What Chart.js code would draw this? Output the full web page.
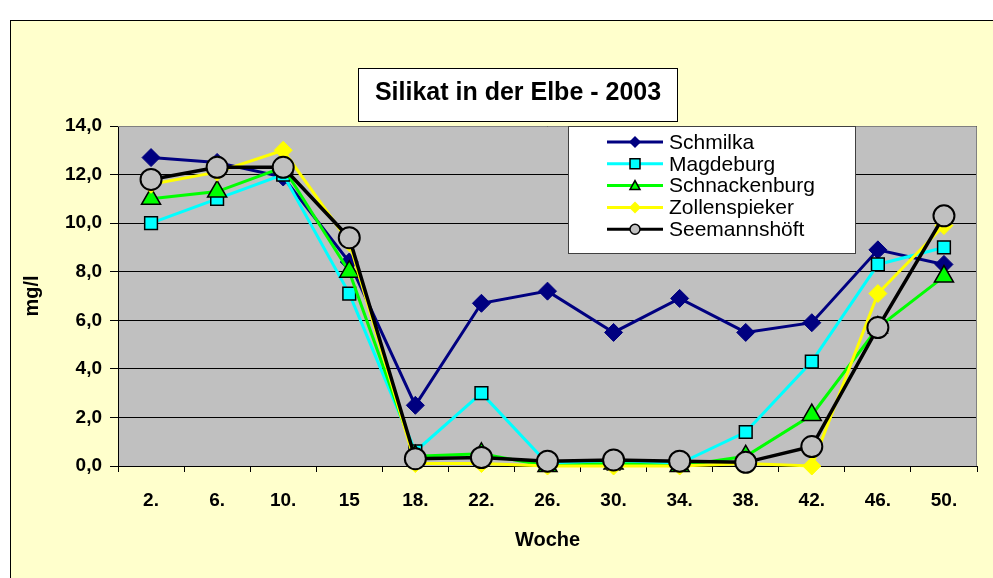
<!DOCTYPE html>
<html>
<head>
<meta charset="utf-8">
<title>Silikat in der Elbe - 2003</title>
<script src="https://cdn.jsdelivr.net/npm/chart.js@4.4.1/dist/chart.umd.min.js"></script>
<style>
  body { margin: 0; background: #fff; }
  #wrap { width: 993px; height: 578px; }
</style>
</head>
<body>
<div id="wrap"><canvas id="silikatChart" width="993" height="578"></canvas></div>
<script>
// Woche (sampling week)
const weeks = ['2.', '6.', '10.', '15', '18.', '22.', '26.', '30.', '34.', '38.', '42.', '46.', '50.'];

// Silikat in mg/l per station
const schmilka      = [12.7, 12.5, 11.9, 8.4, 2.5, 6.7, 7.2, 5.5, 6.9, 5.5, 5.9, 8.9, 8.3];
const magdeburg     = [10.0, 11.0, 12.0, 7.1, 0.6, 3.0, 0.1, 0.1, 0.1, 1.4, 4.3, 8.3, 9.0];
const schnackenburg = [11.0, 11.3, 12.3, 8.0, 0.4, 0.5, 0.0, 0.1, 0.0, 0.4, 2.1, 5.7, 7.8];
const zollenspieker = [11.6, 12.1, 13.0, 9.2, 0.1, 0.1, 0.0, 0.0, 0.0, 0.1, 0.0, 7.1, 9.9];
const seemannshoeft = [11.8, 12.3, 12.3, 9.4, 0.3, 0.35, 0.2, 0.25, 0.2, 0.15, 0.8, 5.7, 10.3];

const yTicks = [0, 2, 4, 6, 8, 10, 12, 14];

const FONT = '"Liberation Sans", Arial, sans-serif';

// background, plot area, title box, legend box, axis titles
const excelLook = {
  id: 'excelLook',
  beforeDraw(chart) {
    const ctx = chart.ctx;
    const a = chart.chartArea;
    ctx.save();
    ctx.fillStyle = '#ffffff';
    ctx.fillRect(0, 0, chart.width, chart.height);
    ctx.fillStyle = '#FFFFCC';
    ctx.fillRect(10, 20, chart.width, chart.height);
    ctx.strokeStyle = '#000';
    ctx.lineWidth = 1;
    ctx.strokeRect(10.5, 20.5, chart.width + 10, chart.height + 10);
    ctx.fillStyle = '#C0C0C0';
    ctx.fillRect(a.left, a.top, a.right - a.left, a.bottom - a.top);
    ctx.restore();
  },
  beforeDatasetsDraw(chart) {
    const ctx = chart.ctx;
    const a = chart.chartArea;
    ctx.save();
    ctx.strokeStyle = '#808080';
    ctx.lineWidth = 1;
    ctx.beginPath();
    ctx.moveTo(a.left, a.top + 0.5);
    ctx.lineTo(a.right - 0.5, a.top + 0.5);
    ctx.lineTo(a.right - 0.5, a.bottom);
    ctx.stroke();
    ctx.restore();
  },
  afterDraw(chart) {
    const ctx = chart.ctx;
    const a = chart.chartArea;
    ctx.save();

    // title box
    ctx.fillStyle = '#fff';
    ctx.fillRect(358, 68, 319, 53);
    ctx.strokeStyle = '#000';
    ctx.lineWidth = 1;
    ctx.strokeRect(358.5, 68.5, 319, 53);
    ctx.fillStyle = '#000';
    ctx.font = 'bold 25px ' + FONT;
    ctx.textAlign = 'center';
    ctx.textBaseline = 'middle';
    ctx.fillText('Silikat in der Elbe - 2003', 518, 93);

    // axis titles
    ctx.font = 'bold 20px ' + FONT;
    ctx.fillText('Woche', (a.left + a.right) / 2, 540);
    ctx.save();
    ctx.translate(32, (a.top + a.bottom) / 2);
    ctx.rotate(-Math.PI / 2);
    ctx.fillText('mg/l', 0, 0);
    ctx.restore();

    // legend
    ctx.fillStyle = '#fff';
    ctx.fillRect(568, 126, 287, 127);
    ctx.strokeStyle = '#404040';
    ctx.strokeRect(568.5, 126.5, 287, 127);
    chart.data.datasets.forEach(function (ds, i) {
      const y = 142 + i * 21.8;
      ctx.strokeStyle = ds.borderColor;
      ctx.lineWidth = 3;
      ctx.beginPath();
      ctx.moveTo(607, y);
      ctx.lineTo(663, y);
      ctx.stroke();
      drawMarker(ctx, ds.pointStyle, 635, y, ds.legendSize, ds.pointBackgroundColor, ds.pointBorderColor, ds.legendBorder);
      ctx.fillStyle = '#000';
      ctx.font = '21px ' + FONT;
      ctx.textAlign = 'left';
      ctx.textBaseline = 'middle';
      ctx.fillText(ds.label, 669, y + 1);
    });
    ctx.restore();
  }
};

function drawMarker(ctx, style, x, y, r, fill, stroke, bw) {
  ctx.beginPath();
  if (style === 'rectRot') {
    ctx.moveTo(x, y - r); ctx.lineTo(x + r, y); ctx.lineTo(x, y + r); ctx.lineTo(x - r, y);
  } else if (style === 'rect') {
    ctx.rect(x - r, y - r, 2 * r, 2 * r);
  } else if (style === 'triangle') {
    ctx.moveTo(x, y - r); ctx.lineTo(x + r, y + r * 0.8); ctx.lineTo(x - r, y + r * 0.8);
  } else {
    ctx.arc(x, y, r, 0, Math.PI * 2);
  }
  ctx.closePath();
  ctx.fillStyle = fill;
  ctx.fill();
  if (bw > 0) {
    ctx.strokeStyle = stroke;
    ctx.lineWidth = bw;
    ctx.stroke();
  }
}

const ctx = document.getElementById('silikatChart').getContext('2d');
const silikatChart = new Chart(ctx, {
  type: 'line',
  data: {
    labels: weeks,
    datasets: [
      {
        label: 'Schmilka', data: schmilka, order: 4,
        borderColor: '#000080', borderWidth: 3,
        pointStyle: 'rectRot', pointRadius: 9, pointBackgroundColor: '#000080',
        pointBorderColor: '#000080', pointBorderWidth: 1,
        legendSize: 6, legendBorder: 0
      },
      {
        label: 'Magdeburg', data: magdeburg, order: 3,
        borderColor: '#00FFFF', borderWidth: 3,
        pointStyle: 'rect', pointRadius: 9, pointBackgroundColor: '#00FFFF',
        pointBorderColor: '#000000', pointBorderWidth: 1.5,
        legendSize: 5, legendBorder: 1.5
      },
      {
        label: 'Schnackenburg', data: schnackenburg, order: 2,
        borderColor: '#00FF00', borderWidth: 3,
        pointStyle: 'triangle', pointRadius: 11, pointBackgroundColor: '#00FF00',
        pointBorderColor: '#000000', pointBorderWidth: 1.5,
        legendSize: 5, legendBorder: 1.5
      },
      {
        label: 'Zollenspieker', data: zollenspieker, order: 1,
        borderColor: '#FFFF00', borderWidth: 3,
        pointStyle: 'rectRot', pointRadius: 9, pointBackgroundColor: '#FFFF00',
        pointBorderColor: '#FFFF00', pointBorderWidth: 1,
        legendSize: 6, legendBorder: 0
      },
      {
        label: 'Seemannshöft', data: seemannshoeft, order: 0,
        borderColor: '#000000', borderWidth: 3.5,
        pointStyle: 'circle', pointRadius: 10.5, pointBackgroundColor: '#C0C0C0',
        pointBorderColor: '#000000', pointBorderWidth: 2,
        legendSize: 5, legendBorder: 1.5
      }
    ]
  },
  options: {
    responsive: false,
    animation: false,
    clip: false,
    layout: { padding: { left: 0, top: 126, right: 16, bottom: 0 } },
    elements: { line: { tension: 0 } },
    plugins: {
      legend: { display: false },
      title: { display: false },
      tooltip: { enabled: false }
    },
    scales: {
      x: {
        type: 'category',
        offset: true,
        grid: { offset: true, drawOnChartArea: false, color: '#000', tickLength: 6 },
        border: { color: '#000' },
        ticks: { color: '#000', padding: 17, font: { family: FONT, size: 19, weight: 'bold' } },
        afterFit: function (scale) { scale.height = 112; }
      },
      y: {
        min: yTicks[0],
        max: yTicks[yTicks.length - 1],
        afterBuildTicks: function (scale) { scale.ticks = yTicks.map(v => ({ value: v })); },
        grid: { color: '#000', tickLength: 8 },
        border: { color: '#000' },
        ticks: {
          color: '#000', padding: 8,
          font: { family: FONT, size: 19, weight: 'bold' },
          callback: function (v) { return v.toFixed(1).replace('.', ','); }
        },
        afterFit: function (scale) { scale.width = 118; }
      }
    }
  },
  plugins: [excelLook]
});
</script>
</body>
</html>
